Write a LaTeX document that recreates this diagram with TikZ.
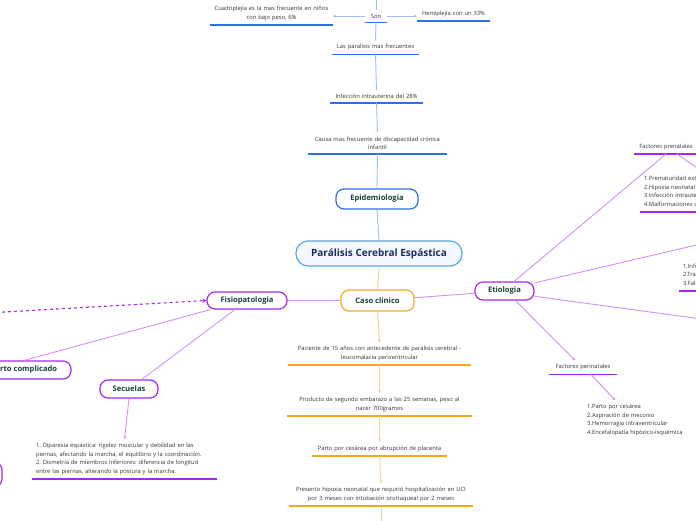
\documentclass[tikz,border=0pt]{standalone}
\usepackage{fontspec}
\setmainfont{Open Sans}
\frenchspacing
\usetikzlibrary{positioning,shapes,arrows.meta}

\definecolor{epiblue}{HTML}{2F6FE4}
\definecolor{epiline}{HTML}{A0BEF4}
\definecolor{rootblue}{HTML}{5AA6DE}
\definecolor{rootfill}{HTML}{F3F9FE}
\definecolor{rootink}{HTML}{1B2C5E}
\definecolor{caseor}{HTML}{F6A623}
\definecolor{caseline}{HTML}{FBD191}
\definecolor{etiopur}{HTML}{A328EE}
\definecolor{etioline}{HTML}{D191F8}
\definecolor{topicink}{HTML}{174236}
\definecolor{smallink}{HTML}{333333}

\begin{document}
\begin{tikzpicture}[%
        x=1pt, y=-1pt,
        >={Stealth[length=2.6pt,width=2.4pt]},
        topic/.style={%
          rectangle,
          rounded corners=8pt,
          draw,
          line width=1.2pt,
          fill=white,
          text=topicink,
          font=\fontsize{7.6}{9}\selectfont\bfseries,
          inner sep=0pt
        },
        note/.style={%
          font=\fontsize{5.8}{8.6}\selectfont,
          text=smallink,
          align=center,
          inner xsep=0pt,
          inner ysep=4pt,
          anchor=south
        },
        ul/.style={append after command={%
          (\tikzlastnode.south west) edge[draw=#1,line width=1.4pt,-] (\tikzlastnode.south east)}},
        bl/.style={draw=epiline, line width=0.9pt},
        ol/.style={draw=caseline, line width=0.9pt},
        pl/.style={draw=etioline, line width=0.9pt}
      ]
      \useasboundingbox (0,0) rectangle (696,520);
      \fill[white] (0,0) rectangle (696,520);
      \clip (0,0) rectangle (696,520);

      % main topics
      \node[topic, draw=rootblue, fill=rootfill, text=rootink, rounded corners=12pt,
        minimum width=166pt, minimum height=25pt,
        font=\fontsize{10}{12}\selectfont\bfseries] (root) at (379,253.5) {Parálisis Cerebral Espástica};
      \node[topic, draw=epiblue, minimum width=82pt, minimum height=20pt] (epi) at (377,199) {Epidemiologia};
      \node[topic, draw=caseor, minimum width=73pt, minimum height=21pt] (caso) at (377.5,300.5) {Caso clinico};
      \node[topic, draw=etiopur, minimum width=80pt, minimum height=17pt] (fisio) at (247,300.5) {Fisiopatologia};
      \node[topic, draw=etiopur, minimum width=94pt, minimum height=18pt] (compl) at (24,370) {Parto complicado};
      \node[topic, draw=etiopur, minimum width=58pt, minimum height=18pt] (sec) at (129,389) {Secuelas};
      \node[topic, draw=etiopur, minimum width=59pt, minimum height=18pt] (etio) at (504.5,291) {Etiologia};
      \node[topic, draw=etiopur, minimum width=60pt, minimum height=25pt] (lft) at (-28,474.5) {};

      % epidemiologia
      \node[note, ul=epiblue, text width=22pt] (son) at (376,22.5) {Son};
      \node[note, ul=epiblue, text width=123pt] (cuad) at (271.5,25) {Cuadriplejia es la mas frecuente en niños\\con bajo peso, 6\%};
      \node[note, ul=epiblue, text width=73pt] (hemi) at (453.5,21) {Hemiplejia con un 33\%};
      \node[note, ul=epiblue, text width=87pt] (paral) at (375.5,54.5) {Las paralisis mas frecuentes};
      \node[note, ul=epiblue, text width=93pt] (infec) at (376.5,103) {Infección intrauterina del 28\%};
      \node[note, ul=epiblue, text width=139pt] (causa) at (377.5,154) {Causa mas frecuente de discapacidad crónica\\infantil};

      % caso clinico
      \node[note, ul=caseor, text width=183pt] (pac) at (379.5,365) {Paciente de 15 años con antecedente de parálisis cerebral -\\leucomalacia periventricular};
      \node[note, ul=caseor, text width=185pt] (prod) at (379.5,416) {Producto de segundo embarazo a las 25 semanas, peso al\\nacer 700gramos};
      \node[note, ul=caseor, text width=135pt] (parto) at (379.5,456) {Parto por cesárea por abrupción de placenta};
      \node[note, ul=caseor, text width=184pt] (hipox) at (381,506) {Presento hipoxia neonatal que requirió hospitalización en UCI\\por 3 meses con intubación orotraqueal por 2 meses};

      % fisiopatologia y etiologia
      \node[note, ul=etiopur, text width=177pt, align=left, inner xsep=4pt] (seclist) at (124.5,479) {1. Diparesia espástica: rigidez muscular y debilidad en las\\piernas, afectando la marcha, el equilibrio y la coordinación.\\2. Dismetría de miembros inferiores: diferencia de longitud\\entre las piernas, alterando la postura y la marcha.};
      \node[note, ul=etiopur, text width=64pt] (prenat) at (666,154) {Factores prenatales};
      \node[note, ul=etiopur, text width=118pt, align=left, inner xsep=4pt] (prenlist) at (703,212) {1.Prematuridad extrema\\2.Hipoxia neonatal\\3.Infección intrauterina\\4.Malformaciones congénitas};
      \node[note, ul=etiopur, text width=60pt, align=left, inner xsep=4pt] (postlist) at (713,291) {1.Infecciones\\2.Traumatismos\\3.Falta de oxígeno};
      \node[note, ul=etiopur, text width=68pt] (perinat) at (583,374.5) {Factores perinatales};
      \node[note, text width=140pt, align=left, anchor=north west] (perilist) at (587,400) {1.Parto por cesárea\\2.Aspiración de meconio\\3.Hemorragia intraventricular\\4.Encefalopatía hipóxico-isquémica};

      \coordinate (top) at (376,-10);
      \coordinate (bot) at (381,530);
      \coordinate (postn) at (720,239.5);
      \coordinate (lowr) at (720,321.5);
      \coordinate (dsh) at (-10,312.8);

      \path[bl] (root.north) edge (epi.south)
      (epi.north) edge (causa.south)
      (causa.north) edge (infec.south)
      (infec.north) edge (paral.south)
      (paral.north) edge (son.south)
      (son.north) edge (top)
      (son.west) edge[->] (cuad.east |- son.west)
      (son.east) edge[->] (hemi.west |- son.east);

      \path[ol] (root.south) edge (caso.north)
      (caso.south) edge[->] (pac.north)
      (pac.south) edge[->] (prod.north)
      (prod.south) edge[->] (parto.north)
      (parto.south) edge[->] (hipox.north)
      (hipox.south) edge (bot);

      \path[pl] (caso.west) edge (fisio.east)
      (caso) edge (etio)
      (fisio.194) edge (compl.north)
      (fisio) edge (sec)
      (sec.south) edge[->] (seclist.north)
      (etio.45) edge (prenat.south)
      ([xshift=11pt]prenat.south) edge[->] (prenlist.north)
      (etio.15) edge (postn)
      (etio.-10) edge (lowr)
      (etio.-41) edge[->] ([xshift=-8pt]perinat.north)
      ([xshift=8pt]perinat.south) edge[->] ([xshift=28pt]perilist.north west);

      \path[draw=etiopur, line width=1.1pt, dash pattern=on 3pt off 3pt, >={Stealth[length=4pt,width=4pt]}]
      (dsh) edge[->] (fisio.west);
  \end{tikzpicture}
\end{document}
